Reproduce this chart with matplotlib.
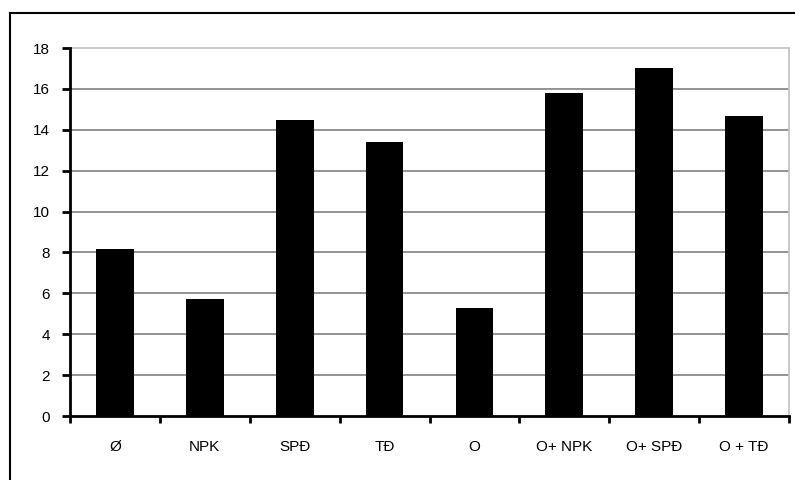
import matplotlib
matplotlib.use("Agg")
import matplotlib.pyplot as plt
from matplotlib.lines import Line2D

categories = ["Ø", "NPK", "SPĐ", "TĐ", "O", "O+ NPK", "O+ SPĐ", "O + TĐ"]
values = [8.15, 5.72, 14.48, 13.4, 5.28, 15.8, 17.03, 14.68]
yticks = [0, 2, 4, 6, 8, 10, 12, 14, 16, 18]

plt.rcParams['font.family'] = ['Liberation Sans', 'DejaVu Sans']

W, H = 795, 480
fig = plt.figure(figsize=(W / 100, H / 100), dpi=100)
ax = fig.add_axes([70 / W, 1 - 416 / H, (789 - 70) / W, (416 - 48) / H])

x = list(range(len(categories)))
ax.bar(x, values, width=0.42, color="black", zorder=3)

ax.set_xlim(-0.5, len(categories) - 0.5)
ax.set_ylim(0, 18)
ax.set_yticks(yticks)
ax.set_yticklabels([str(v) for v in yticks])
ax.set_xticks(x)
ax.set_xticklabels(categories)
ax.set_xticks([i - 0.5 for i in range(len(categories) + 1)], minor=True)

for v in yticks[1:-1]:
    ax.axhline(v, color="#808080", lw=1.2, zorder=1)

for s in ["left", "bottom"]:
    ax.spines[s].set_linewidth(2)
    ax.spines[s].set_color("black")
    ax.spines[s].set_zorder(4)
for s in ["top", "right"]:
    ax.spines[s].set_linewidth(1.2)
    ax.spines[s].set_color("#c0c0c0")

ax.tick_params(axis="x", which="major", length=0, pad=17, labelsize=11)
ax.tick_params(axis="x", which="minor", length=5, width=2, direction="out", color="black")
ax.tick_params(axis="y", length=5.5, width=2, direction="out", pad=9, labelsize=11)

# outer chart frame (partially cut off on right/bottom)
fig.add_artist(Line2D([9.5 / W, 9.5 / W], [0, 1 - 13 / H], transform=fig.transFigure,
                      color="black", lw=1.5))
fig.add_artist(Line2D([9.5 / W, 1], [1 - 13 / H, 1 - 13 / H], transform=fig.transFigure,
                      color="black", lw=1.5))

fig.savefig("out.png", dpi=100)
